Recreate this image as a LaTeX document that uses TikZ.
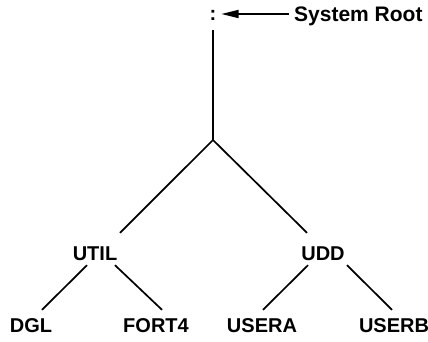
\documentclass[tikz,border=0pt]{standalone}
\usepackage{fontspec}
\setmainfont{Liberation Sans}
\usetikzlibrary{arrows.meta}
\begin{document}
\begin{tikzpicture}[x=1pt,y=-1pt,
  lbl/.style={inner sep=0pt,text height=14pt,text depth=0pt,font=\fontsize{20}{22}\selectfont\bfseries},
  branch/.style={line width=1.7pt}]
\useasboundingbox (0,0) rectangle (428,341);
% root of the file system and its caption
\node[lbl] (root) at (213,13) {:};
\node[lbl,anchor=west,font=\fontsize{21}{23}\selectfont\bfseries] (caption) at (294,14) {System Root};
\draw[line width=1.5pt,-{Triangle[length=17pt,width=8pt]}] ([xshift=-5pt]caption.west) -- ([xshift=5pt]root.east |- caption.west);
% trunk
\coordinate (top) at (213,30);
\coordinate (fork) at (213,140);
\draw[branch] (top) -- (fork);
% second level
\node[lbl] (util) at (95,253) {UTIL};
\node[lbl] (udd) at (323,253) {UDD};
\draw[branch] ([shift={(25,-13)}]util.north) -- (fork) -- ([shift={(-16,-13)}]udd.north);
% leaves
\node[lbl] (dgl) at (31,325) {DGL};
\node[lbl] (fort) at (156,325) {FORT4};
\node[lbl] (usera) at (262,325) {USERA};
\node[lbl] (userb) at (394,325) {USERB};
\draw[branch] ([shift={(-8,5)}]util.south) -- ([shift={(11,-8)}]dgl.north);
\draw[branch] ([shift={(20,5)}]util.south) -- ([shift={(6,-8)}]fort.north);
\draw[branch] ([shift={(-15,5)}]udd.south) -- ([shift={(1,-8)}]usera.north);
\draw[branch] ([shift={(24,5)}]udd.south) -- ([shift={(-2,-8)}]userb.north);
\end{tikzpicture}
\end{document}
